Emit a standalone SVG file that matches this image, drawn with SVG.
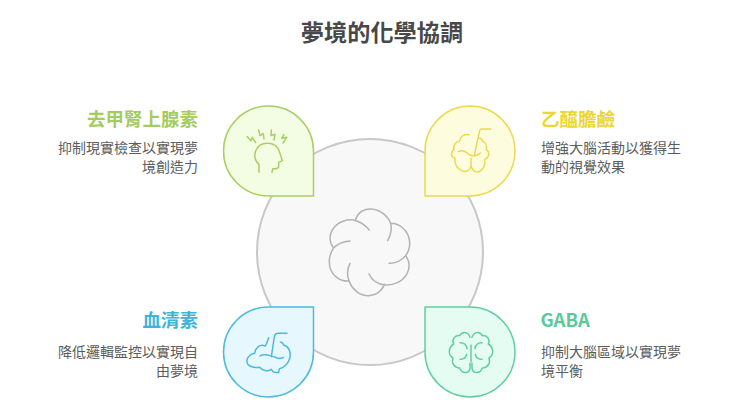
<svg xmlns="http://www.w3.org/2000/svg" width="740" height="416" viewBox="0 0 740 416">
<style>
text{font-family:"Noto Sans CJK TC","Noto Sans CJK SC",sans-serif}
.t{font-size:23.2px;font-weight:700;fill:#484848;text-anchor:middle}
.h{font-size:18.5px;font-weight:700}
.d{font-size:14px;fill:#5c5c5c}
.e{text-anchor:end}
.i{fill:none;stroke-width:4.5;stroke-linecap:round;stroke-linejoin:round}
.p{stroke-width:1.5;stroke-linejoin:round}
</style>
<rect width="740" height="416" fill="#fff"/>
<text class="t" x="382" y="41">夢境的化學協調</text>
<g id="center">
<circle cx="370" cy="252" r="113" fill="#f8f8f8" stroke="#c8c8c8" stroke-width="2"/>
<g transform="translate(315 205) scale(.3333)">
<path class="i" stroke="#b2b2b2" d="M122 43C130 20 150 11 168 12C195 13 218 32 227 55C232 75 226 92 218 107M228 55C252 55 272 72 280 92C288 115 284 135 272 152C258 170 240 175 222 175M272 152C285 170 285 190 275 208C262 230 235 242 210 240C190 238 172 228 162 207M208 238C202 258 182 272 160 272C135 272 113 255 103 230C95 210 97 190 105 175M102 228C75 230 52 212 45 188C40 165 45 145 55 130C68 116 87 109 105 108M55 128C42 110 42 88 55 70C70 50 100 38 125 48C145 55 155 65 163 75"/>
</g>
</g>
<g id="n1">
<path class="p" fill="#f3fde4" stroke="#a7cf62" d="M313.500 196H268.500A45 45 0 1 1 313.500 151Z"/>
<g transform="translate(210 95) scale(.3333)"><path class="i" stroke="#a7cf62" d="M147 232V208C136 198 132 182 137 168C143 152 158 145 172 145C190 145 204 155 209 172L217 197L206 202V214C206 219 201 221 196 221H188L186 232M112 125L123 137L127 127L137 143M146 105L150 122L160 116L162 132M184 105L183 122L195 118L192 135M222 119L215 130L230 127L219 144"/></g>
</g>
<g id="n2">
<path class="p" fill="#fefcdf" stroke="#ebd94e" d="M425 196V151A45 45 0 1 1 470 196Z"/>
<g transform="translate(415 95) scale(.3333)"><path class="i" stroke="#ebd94e" d="M227 102H200C197 102 195 104 194 107L178 180M162 119C148 116 137 124 134 138C120 142 113 152 117 164C106 172 107 186 120 190C117 206 127 222 140 227C152 233 165 226 168 214V190M168 214C172 228 186 236 195 228C206 224 212 206 209 194C222 188 226 172 214 164C217 150 210 142 204 140C200 132 196 127 190 130M130 170C145 162 155 172 162 178C172 186 188 182 196 174"/></g>
</g>
<g id="n3">
<path class="p" fill="#e6f7fe" stroke="#4bbbdc" d="M313.500 307V352A45 45 0 1 1 268.500 307Z"/>
<g transform="translate(210 300) scale(.3333)"><path class="i" stroke="#4bbbdc" d="M231 100H205C198 100 194 104 193 111L184 170M176 113C173 122 170 130 166 138C150 130 136 143 134 160C118 162 107 176 112 190C118 203 135 203 150 202C156 212 172 216 184 208L190 216L206 218L208 206C224 202 236 188 240 172C243 155 235 138 222 136C218 128 214 126 211 126M150 168C165 158 180 168 197 172C205 176 214 176 220 172"/></g>
</g>
<g id="n4">
<path class="p" fill="#e4fcf2" stroke="#62cea0" d="M425 307H470A45 45 0 1 1 425 352Z"/>
<g transform="translate(415 300) scale(.3333)"><path class="i" stroke="#62cea0" d="M168 135V185M165 112C160 96 142 92 134 107C118 105 110 120 116 132C100 142 98 165 114 174C108 190 120 204 134 204C140 222 162 222 165 205V190M171 112C176 96 194 92 202 107C218 105 226 120 220 132C236 142 238 165 222 174C228 190 216 204 202 204C196 222 174 222 171 205V190M135 128C147 128 155 135 156 146M201 128C189 128 181 135 180 146M135 178C147 178 153 172 155 163M201 178C189 178 183 172 181 163"/></g>
</g>
<g id="l1"><text class="h e" x="198" y="126" fill="#a5cc5f">去甲腎上腺素</text><text class="d e" x="198" y="153">抑制現實檢查以實現夢</text><text class="d e" x="198" y="172">境創造力</text></g>
<g id="l2"><text class="h" x="541" y="126" fill="#ebd632">乙醯膽鹼</text><text class="d" x="541" y="153">增強大腦活動以獲得生</text><text class="d" x="541" y="172">動的視覺效果</text></g>
<g id="l3"><text class="h e" x="198" y="327" fill="#3db5d8">血清素</text><text class="d e" x="198" y="357">降低邏輯監控以實現自</text><text class="d e" x="198" y="376">由夢境</text></g>
<g id="l4"><text class="h" x="540.500" y="327" fill="#5cc99b">GABA</text><text class="d" x="541" y="357">抑制大腦區域以實現夢</text><text class="d" x="541" y="376">境平衡</text></g>
</svg>
